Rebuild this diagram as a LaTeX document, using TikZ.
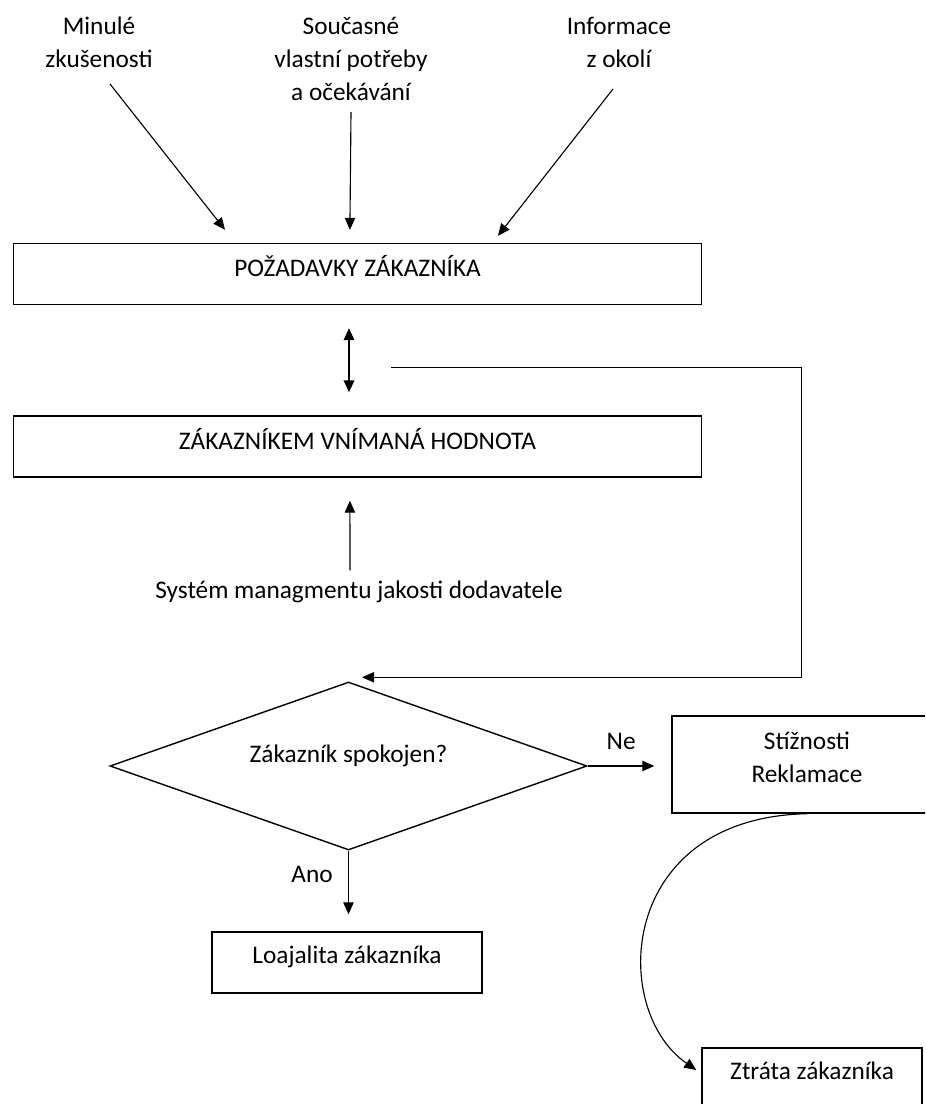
\documentclass[tikz,border=0pt]{standalone}
\usepackage{fontspec}
\setmainfont{Carlito}
\usetikzlibrary{positioning,shapes.geometric,arrows.meta,calc}
\tikzset{
  bigbox/.style={draw=black, line width=1pt, minimum width=17.2cm,
    minimum height=1.525cm, inner sep=0pt, text depth=11pt},
  smbox/.style={draw=black, line width=1pt, inner sep=0pt, align=center,
    text depth=11pt},
  decide/.style={diamond, aspect=2.84, draw=black, line width=1pt,
    minimum width=11.925cm, minimum height=4.2cm, inner sep=0pt, text depth=17pt},
  txt/.style={align=center, inner sep=0pt},
  flow/.style={-{Triangle[length=3mm,width=2.6mm]}, line width=0.8pt},
  dflow/.style={{Triangle[length=3mm,width=2.6mm]}-{Triangle[length=3mm,width=2.6mm]},
    line width=1.6pt},
}

\begin{document}
\begin{tikzpicture}[font=\fontsize{18}{23.5}\selectfont]
  \useasboundingbox (0,0) rectangle (23.125,-27.6);
  \clip (0,0) rectangle (23.125,-27.6);

  % inputs
  \node[txt] (minule) at (2.475,-1.05) {Minulé\\zkušenosti};
  \node[txt] (soucasne) at (8.775,-1.475) {Současné\\vlastní potřeby\\a očekávání};
  \node[txt] (informace) at (15.475,-1.05) {Informace\\z okolí};

  \node[bigbox] (pozad) at (8.9375,-6.85) {POŽADAVKY ZÁKAZNÍKA};
  \node[bigbox] (vnim) at (8.9375,-11.1625) {ZÁKAZNÍKEM VNÍMANÁ HODNOTA};
  \node[txt] (system) at (8.975,-14.8) {Systém managmentu jakosti dodavatele};

  \draw[flow] ($(minule)+(0.275,-1.05)$) -- ($(pozad.north)+(-3.3125,0.325)$);
  \draw[flow] ($(soucasne)+(0,-1.325)$) -- ($(pozad.north)+(-0.19,0.325)$);
  \draw[flow] ($(informace)+(-0.15,-1.175)$) -- ($(pozad.north)+(3.5125,0.175)$);

  \draw[dflow] ($(pozad.south)+(-0.2125,-0.575)$) -- ($(vnim.north)+(-0.2125,0.575)$);
  \draw[flow] ($(system.north)+(-0.225,0.26)$) -- ($(vnim.south)+(-0.19,-0.575)$);

  % decision
  \node[decide] (spok) at (8.7125,-19.15) {Zákazník spokojen?};
  \node[smbox, minimum width=6.75cm, minimum height=2.425cm] (stiz)
    at (20.175,-19.1125) {Stížnosti\\Reklamace};
  \node[smbox, minimum width=6.75cm, minimum height=1.525cm] (loaj)
    at (8.675,-24.0625) {Loajalita zákazníka};
  \node[smbox, minimum width=5.5cm, minimum height=1.525cm] (ztrata)
    at (20.3,-26.9625) {Ztráta zákazníka};

  \coordinate (fbs) at ($(pozad.south)+(0.84,-1.55)$);
  \coordinate (fbe) at ($(spok.north)+(0.34,0.1)$);
  \draw[flow] (fbs) -- ++(10.25,0) |- (fbe);

  \draw[flow, shorten >=0.425cm] (spok.east) -- (spok.east -| stiz.west)
    node[txt, pos=0.4, above=0.4cm] {Ne};
  \draw[flow, shorten >=0.425cm] (spok.south) -- (spok.south |- loaj.north)
    node[txt, pos=0.3, left=0.38cm] {Ano};
  \draw[flow] (stiz.south) .. controls +(-4.75,-0.1) and +(-2.175,1.5)
    .. ($(ztrata.west)+(-0.125,0.2125)$);
\end{tikzpicture}
\end{document}
